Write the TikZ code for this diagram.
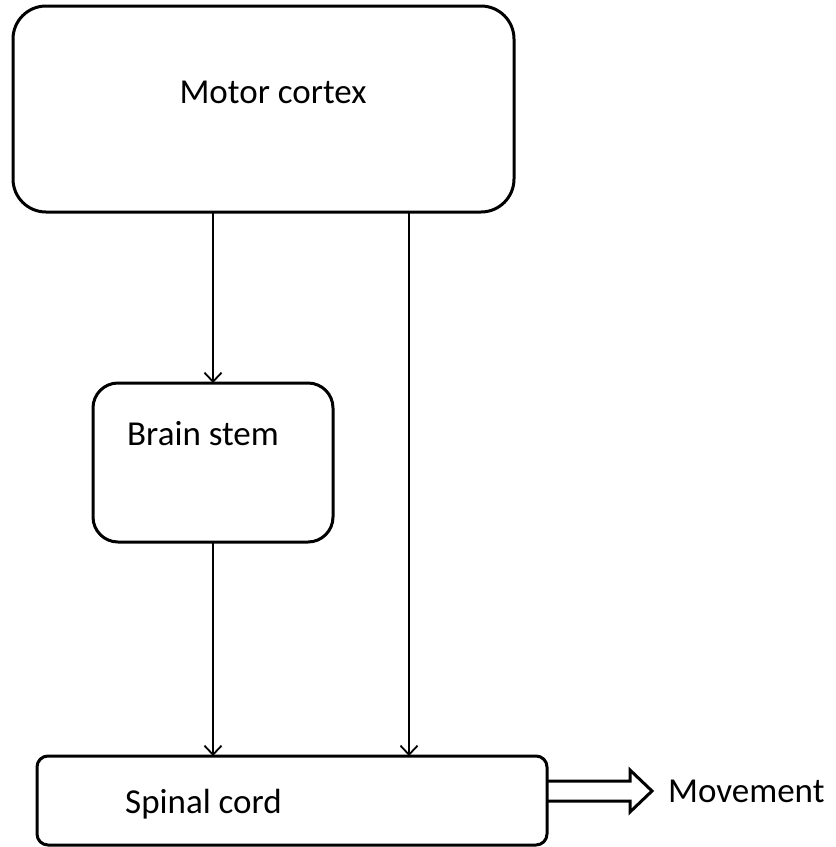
\documentclass[tikz,border=0pt]{standalone}
\usepackage{fontspec}
\setmainfont{Carlito}
\usetikzlibrary{arrows.meta, positioning}

\begin{document}
\begin{tikzpicture}[x=1pt, y=-1pt, >={Straight Barb[length=9pt, width=17pt, line width=1.8pt]},
  box/.style={rectangle, draw, line width=3pt, inner sep=0pt, outer sep=0pt},
  lbl/.style={anchor=base west, inner sep=0pt, font=\fontsize{35}{42}\selectfont},
  arr/.style={->, line width=1.8pt}]
\useasboundingbox (0,0) rectangle (836,847);

\node (motor) [box, rounded corners=33pt, minimum width=501pt, minimum height=206pt] at (263.5,109) {};
\node (brain) [box, rounded corners=25pt, minimum width=240pt, minimum height=159pt, below=171pt of motor, xshift=-50.5pt] {};
\node (spinal)[box, rounded corners=11pt, minimum width=510pt, minimum height=89pt, below=214pt of brain, xshift=79pt] {};

\node (motortxt)  [lbl, anchor=base] at (273,103) {Motor cortex};
\node (braintxt)  [lbl] at (127,445) {Brain stem};
\node (spinaltxt) [lbl] at (125,813) {Spinal cord};
\node (move)      [lbl] at (668,802) {Movement};

\draw[arr] (motor.south -| brain.north) -- (brain.north);
\draw[arr] (brain.south) -- (brain.south |- spinal.north);
\draw[arr] ([xshift=145.5pt]motor.south) -- ([xshift=145.5pt]motor.south |- spinal.north);

% hollow arrow out of the spinal cord
\coordinate (mvtail) at ([yshift=19.5pt]spinal.east);
\draw[line width=3pt, line join=miter] (mvtail) -- ++(83,0) -- ++(0,-11) -- ++(22,21) -- ++(-22,21) -- ++(0,-11) -- ++(-83,0);
\end{tikzpicture}
\end{document}
